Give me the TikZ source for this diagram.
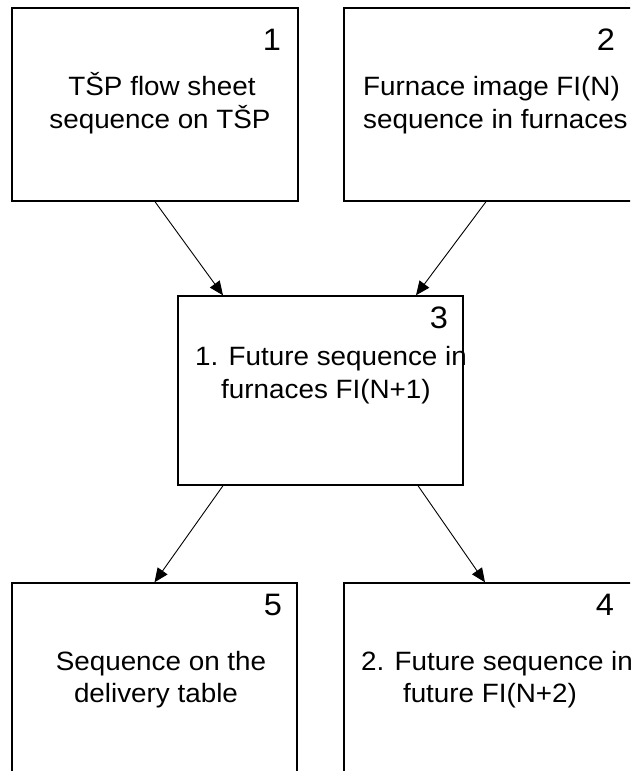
\documentclass[tikz,border=0pt]{standalone}
\usepackage{fontspec}
\setmainfont{Liberation Sans}[FakeStretch=1.05]
\usetikzlibrary{arrows.meta,calc}
\begin{document}
\begin{tikzpicture}[x=1pt,y=-1pt,
  box/.style={draw,line width=1.4pt,rectangle,inner sep=0pt},
  lbl/.style={anchor=base,inner sep=0pt,font=\fontsize{26.5}{33}\selectfont},
  lblw/.style={anchor=base west,inner sep=0pt,font=\fontsize{26.5}{33}\selectfont},
  num/.style={anchor=base,inner sep=0pt,font=\fontsize{31}{36}\selectfont},
  arr/.style={line width=0.9pt,-{Triangle[length=14pt,width=12pt]}}]
\useasboundingbox (0,0) rectangle (630,771);
\clip (0,0) rectangle (630,771);
% boxes
\node[box,minimum width=286pt,minimum height=193pt] (b1) at (155,104.5) {};
\node[box,minimum width=288pt,minimum height=193pt] (b2) at (488,104.5) {};
\node[box,minimum width=285pt,minimum height=189pt] (b3) at (320.5,390.5) {};
\node[box,minimum width=285pt,minimum height=200pt] (b5) at (154.5,683) {};
\node[box,minimum width=288pt,minimum height=200pt] (b4) at (488,683) {};
% box 1
\node[num] (n1) at (272,50) {1};
\node[lbl] (t1a) at (162,95) {TŠP flow sheet};
\node[lbl] (t1b) at (160,128) {sequence on TŠP};
% box 2
\node[num] (n2) at (606,50) {2};
\node[lblw] (t2a) at (363,95) {Furnace image FI(N)};
\node[lblw] (t2b) at (363,128) {sequence in furnaces};
% box 3
\node[num] (n3) at (439,328) {3};
\node[lbl] (t3a) at (331,365) {1. Future sequence in};
\node[lbl] (t3b) at (326,398) {furnaces FI(N+1)};
% box 5
\node[num] (n5) at (273,615) {5};
\node[lbl] (t5a) at (161,670) {Sequence on the};
\node[lbl] (t5b) at (156,702) {delivery table};
% box 4
\node[num] (n4) at (605,615) {4};
\node[lblw] (t4a) at (361,670) {2. Future sequence in};
\node[lbl] (t4b) at (490,702) {future FI(N+2)};
% arrows
\draw[arr] (b1.south) -- ($(b3.north)+(-97.5,0)$);
\draw[arr] ($(b2.south)+(-2,0)$) -- ($(b3.north)+(95.5,0)$);
\draw[arr] ($(b3.south)+(-97.5,0)$) -- (b5.north);
\draw[arr] ($(b3.south)+(97.5,0)$) -- ($(b4.north)+(-3,0)$);
\end{tikzpicture}
\end{document}
